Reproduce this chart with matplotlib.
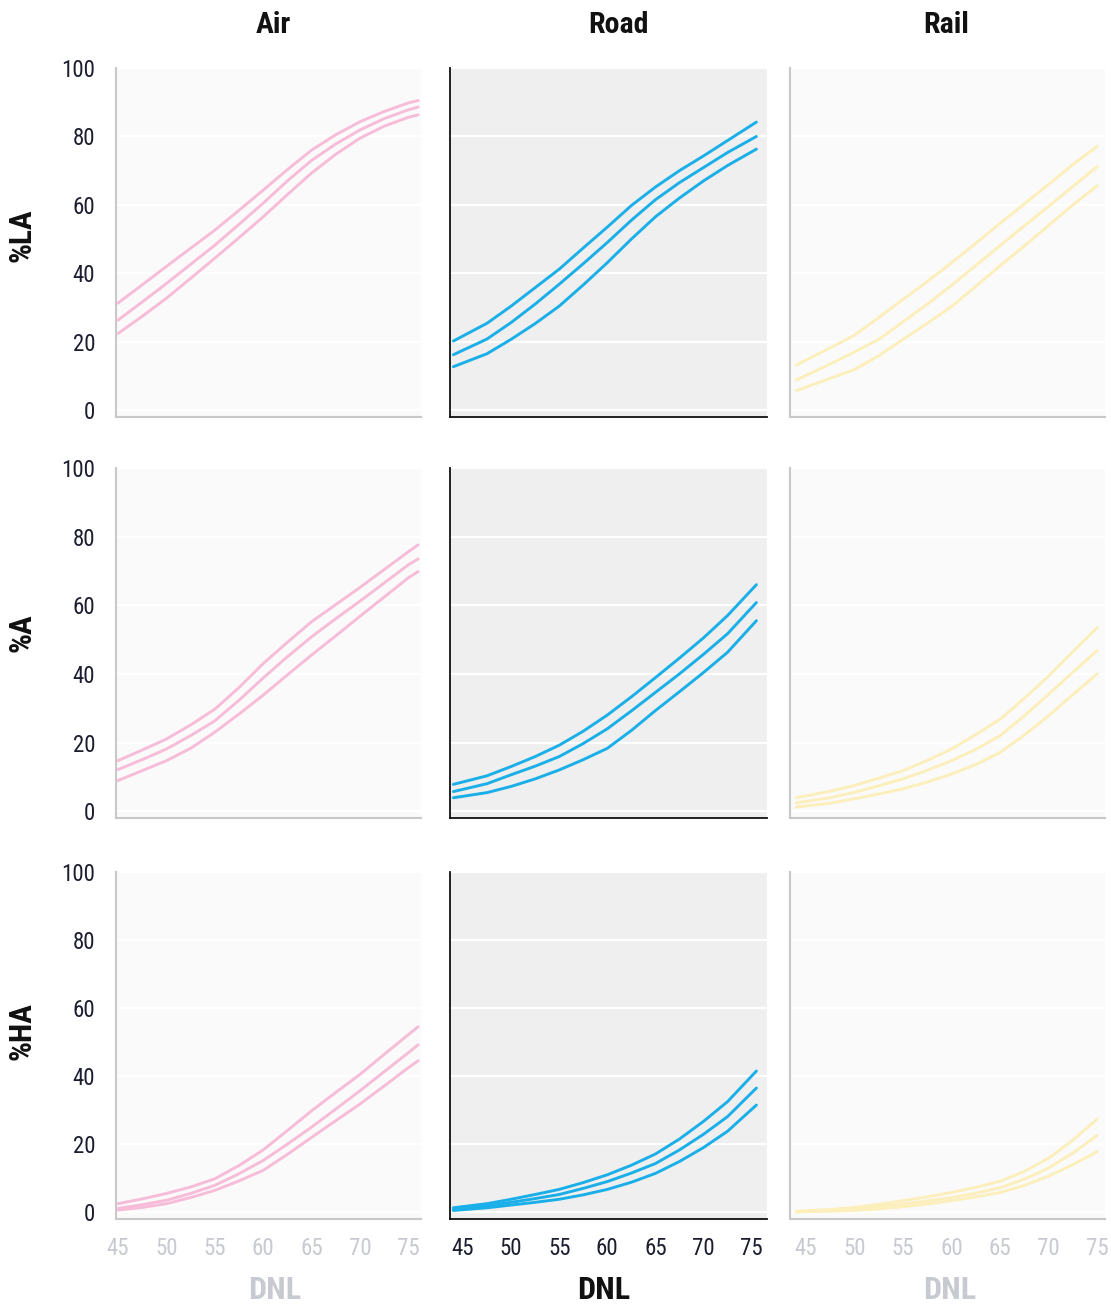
import matplotlib
matplotlib.use("Agg")
import matplotlib.pyplot as plt

plt.rcParams['font.family'] = ['Roboto Condensed', 'Liberation Sans Narrow',
                               'Roboto', 'DejaVu Sans']

# x positions (DNL) per transport mode
air_dnl = [45, 47.5, 50, 52.5, 55, 57.5, 60, 62.5, 65, 67.5, 70, 72.5, 75, 76]
road_dnl = [44, 47.5, 50, 52.5, 55, 57.5, 60, 62.5, 65, 67.5, 70, 72.5, 75.5]
rail_dnl = [44, 47.5, 50, 52.5, 55, 57.5, 60, 62.5, 65, 67.5, 70, 72.5, 75]

# %LA  (upper, middle, lower curve)
air_la = [[31.3, 36.6, 42, 47.3, 52.6, 58.4, 64.3, 70.3, 76, 80.5, 84.3, 87.3, 89.8, 90.5],
          [26.3, 31.6, 37, 42.6, 48.2, 54.3, 60.5, 67, 73, 77.8, 81.9, 85.2, 87.8, 88.6],
          [22.4, 27.4, 32.7, 38.5, 44.4, 50.4, 56.5, 63, 69.3, 74.8, 79.5, 83, 85.6, 86.3]]
road_la = [[20.2, 25.4, 30.4, 35.8, 41.2, 47.4, 53.5, 59.8, 65.2, 70, 74.3, 78.8, 84.2],
           [16.2, 20.8, 25.6, 31, 36.8, 42.8, 49, 55.5, 61.5, 66.5, 70.9, 75.3, 80],
           [12.7, 16.5, 20.7, 25.3, 30.4, 36.6, 43.1, 50, 56.5, 62, 67, 71.5, 76.3]]
rail_la = [[13.2, 18.2, 21.9, 27.1, 32.4, 37.6, 43.1, 48.8, 54.6, 60.3, 66, 71.8, 77.1],
           [8.8, 13.5, 17, 20.7, 25.8, 31, 36.5, 42.3, 48.1, 53.9, 59.6, 65.4, 71.2],
           [5.7, 9.3, 11.9, 15.9, 20.7, 25.4, 30.3, 36.2, 42.2, 48, 54, 60, 65.6]]

# %A
air_a = [[14.7, 17.8, 21, 25.1, 29.7, 36, 43, 49.2, 55.2, 60.2, 65.2, 70.4, 75.6, 77.6],
         [12.1, 15, 18.1, 22, 26.3, 32.3, 38.8, 45, 50.8, 56.1, 61.2, 66.5, 71.8, 73.5],
         [8.9, 11.8, 14.7, 18.3, 23, 28.3, 33.8, 39.7, 45.5, 51.1, 56.8, 62.4, 68, 69.8]]
road_a = [[7.8, 10.3, 13, 15.9, 19.2, 23.3, 28, 33.3, 38.9, 44.6, 50.5, 57, 66],
          [5.7, 8, 10.6, 13.1, 15.9, 19.7, 24, 29.2, 34.6, 40, 45.7, 51.7, 60.8],
          [3.9, 5.4, 7.2, 9.4, 12, 15, 18.3, 23.5, 29.3, 34.8, 40.4, 46.3, 55.5]]
rail_a = [[3.9, 5.8, 7.5, 9.6, 11.8, 14.8, 18.1, 22.3, 26.8, 32.9, 39.4, 46.5, 53.5],
          [2.4, 3.9, 5.5, 7.4, 9.4, 11.9, 14.7, 18, 22, 27.8, 34.1, 40.5, 46.8],
          [1.2, 2.3, 3.6, 5, 6.5, 8.5, 10.8, 13.6, 17.1, 22.2, 27.8, 34, 40]]

# %HA
air_ha = [[2.5, 3.9, 5.5, 7.4, 9.8, 13.7, 18.3, 24, 29.8, 35.2, 40.5, 46.4, 52.2, 54.5],
          [1.1, 2.2, 3.5, 5.5, 7.9, 11.3, 15.2, 20, 25, 30.3, 35.7, 41.3, 46.9, 49.2],
          [0.6, 1.4, 2.5, 4.3, 6.4, 9.2, 12.3, 17, 22, 26.9, 31.8, 37.1, 42.5, 44.5]]
road_ha = [[1.3, 2.5, 3.8, 5.2, 6.7, 8.7, 11, 13.8, 17.1, 21.5, 26.7, 32.5, 41.5],
           [0.9, 1.9, 2.9, 4, 5.2, 7, 9, 11.5, 14.3, 18.3, 22.9, 28.1, 36.5],
           [0.5, 1.3, 2.1, 2.9, 3.8, 5.1, 6.7, 8.8, 11.4, 14.9, 19, 23.8, 31.5]]
rail_ha = [[0.3, 0.8, 1.4, 2.3, 3.4, 4.5, 5.8, 7.3, 9.1, 12, 15.9, 21.2, 27.4],
           [0.2, 0.6, 1.0, 1.6, 2.4, 3.3, 4.3, 5.6, 7.2, 9.7, 13, 17.4, 22.6],
           [0.1, 0.3, 0.5, 1.0, 1.6, 2.4, 3.4, 4.5, 5.8, 7.9, 10.6, 14, 17.8]]

modes = ['Air', 'Road', 'Rail']
measures = ['%LA', '%A', '%HA']
dnl = [air_dnl, road_dnl, rail_dnl]
curves = [[air_la, road_la, rail_la],
          [air_a, road_a, rail_a],
          [air_ha, road_ha, rail_ha]]
x_ticks = [45, 50, 55, 60, 65, 70, 75]
y_ticks = [0, 20, 40, 60, 80, 100]

line_colors = ['#f7bcd8', '#1aafe8', '#fcefbb']
bg_colors = ['#fafafa', '#efefef', '#fafafa']
spine_colors = ['#c8c8c8', '#111111', '#c8c8c8']
xtick_colors = ['#c8cad2', '#1c1e30', '#c8cad2']
dark = '#1c1e30'

W, H = 1111, 1306
col_px = [(116, 421), (450, 767), (790, 1105)]
row_px = [(68, 417), (468, 818), (872, 1219)]
xlims = [(44.8, 76.3), (43.65, 76.6), (43.35, 75.8)]

fig = plt.figure(figsize=(W / 100, H / 100), dpi=100)

for r in range(3):
    for c in range(3):
        x0, x1 = col_px[c]
        y0, y1 = row_px[r]
        ax = fig.add_axes([x0 / W, 1 - y1 / H, (x1 - x0) / W, (y1 - y0) / H])
        ax.set_facecolor(bg_colors[c])
        for ys in curves[r][c]:
            ax.plot(dnl[c], ys, color=line_colors[c], lw=2.1,
                    solid_capstyle='round', solid_joinstyle='round', zorder=3)
        ax.set_xlim(*xlims[c])
        ax.set_ylim(-2, 100)
        ax.set_xticks(x_ticks)
        ax.set_yticks(y_ticks)
        ax.grid(axis='y', color='white', lw=1.6, zorder=1)
        ax.set_axisbelow(True)
        for s in ['top', 'right']:
            ax.spines[s].set_visible(False)
        for s in ['left', 'bottom']:
            ax.spines[s].set_color(spine_colors[c])
            ax.spines[s].set_linewidth(1.5 if c != 1 else 1.3)
        ax.tick_params(length=0)
        if c == 0:
            ax.tick_params(axis='y', labelsize=16.5, labelcolor=dark, pad=15)
        else:
            ax.set_yticklabels([])
        if r == 2:
            ax.tick_params(axis='x', labelsize=16.5, labelcolor=xtick_colors[c], pad=13)
        else:
            ax.set_xticklabels([])

# column titles
for x, name in zip([273, 618, 946], modes):
    fig.text(x / W, 1 - 25 / H, name, ha='center', va='center',
             fontsize=21.5, fontweight='bold', color='#111111')

# row labels
for y, name in zip([235, 633, 1031], measures):
    fig.text(22 / W, 1 - y / H, name, ha='center', va='center', rotation=90,
             fontsize=22.5, fontweight='bold', color='#111111')

# x-axis labels
for x, col in zip([275, 604, 950], ['#c8cad2', '#111111', '#c8cad2']):
    fig.text(x / W, 1 - 1290 / H, 'DNL', ha='center', va='center',
             fontsize=23, fontweight='bold', color=col)

fig.savefig('out.png', dpi=100)
